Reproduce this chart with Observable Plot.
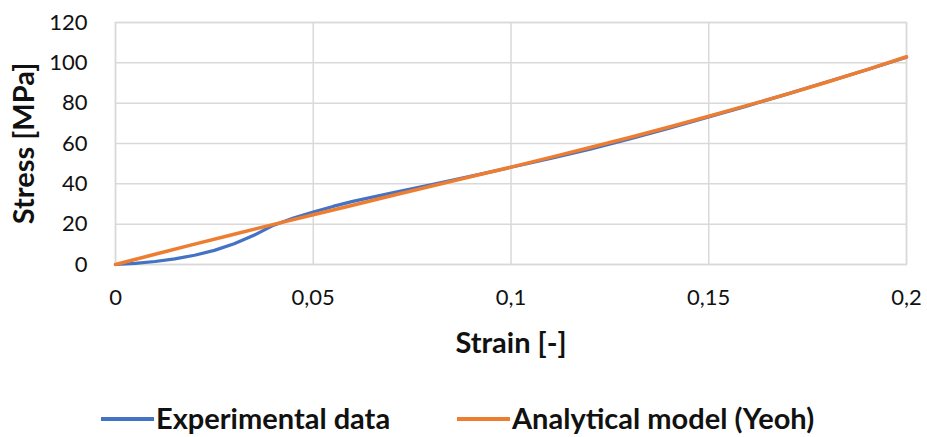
<!DOCTYPE html>
<html>
<head>
<meta charset="utf-8">
<script src="https://cdn.jsdelivr.net/npm/d3@7"></script>
<script src="https://cdn.jsdelivr.net/npm/@observablehq/plot@0.6"></script>
<style>
  body { margin: 0; background: #fff; font-family: Lato, "Open Sans", sans-serif; overflow: hidden; }
  #chart { position: relative; width: 927px; height: 437px; overflow: hidden; }
  .legend { position: absolute; left: 0; top: 402px; width: 927px; height: 32px; }
  .swatch { position: absolute; top: 15px; width: 53px; height: 4px; }
  .label { position: absolute; top: 0; height: 32px; line-height: 32px; white-space: nowrap;
           font-weight: bold; font-size: 29px; color: #111; }
</style>
</head>
<body>
<div id="chart"></div>
<script>
// Experimental stress-strain curve
const expStrain = [0, 0.005, 0.01, 0.015, 0.02, 0.025, 0.03, 0.035, 0.04, 0.045, 0.05, 0.055, 0.06,
                   0.07, 0.08, 0.09, 0.1, 0.11, 0.12, 0.13, 0.14, 0.15, 0.16, 0.17, 0.18, 0.19, 0.2];
const expStress = [0, 0.6, 1.5, 2.8, 4.6, 7.0, 10.3, 14.5, 19.5, 23.0, 26.0, 28.8, 31.3,
                   35.5, 39.6, 43.8, 48.2, 52.6, 57.2, 62.2, 67.6, 73.2, 78.8, 84.6, 90.6, 96.6, 102.8];

// Yeoh hyperelastic model fit
const modelStrain = [0, 0.01, 0.02, 0.03, 0.04, 0.05, 0.06, 0.07, 0.08, 0.09, 0.1,
                     0.11, 0.12, 0.13, 0.14, 0.15, 0.16, 0.17, 0.18, 0.19, 0.2];
const modelStress = [0, 5.1, 10.1, 15.0, 19.9, 24.7, 29.4, 34.2, 38.9, 43.6, 48.3,
                     53.1, 58.0, 63.0, 68.2, 73.5, 79.0, 84.6, 90.5, 96.6, 103.0];

const xTicks = [0, 0.05, 0.1, 0.15, 0.2];
const yTicks = [0, 20, 40, 60, 80, 100, 120];

const seriesNames = ["Experimental data", "Analytical model (Yeoh)"];
const seriesColors = ["#4472C4", "#ED7D31"];

const expData = expStrain.map((s, i) => ({strain: s, stress: expStress[i]}));
const modelData = modelStrain.map((s, i) => ({strain: s, stress: modelStress[i]}));

const grid = "#d9d9d9";
const plot = Plot.plot({
  width: 927,
  height: 360,
  marginLeft: 115,
  marginRight: 21,
  marginTop: 22,
  marginBottom: 96,
  style: {fontFamily: "Lato, 'Open Sans', sans-serif", fontSize: "22px", color: "#111", background: "#fff"},
  x: {domain: [0, 0.2]},
  y: {domain: [0, 120]},
  marks: [
    Plot.gridX(xTicks, {stroke: grid, strokeOpacity: 1, strokeWidth: 1.5}),
    Plot.gridY(yTicks, {stroke: grid, strokeOpacity: 1, strokeWidth: 1.5}),
    Plot.frame({stroke: grid, strokeWidth: 1.5}),
    Plot.axisX(xTicks, {tickSize: 0, tickPadding: 25, label: null,
      tickFormat: d => String(d).replace(".", ","), fontSize: 22}),
    Plot.axisY(yTicks, {tickSize: 0, tickPadding: 28, label: null, fontSize: 22}),
    Plot.line(expData, {x: "strain", y: "stress", stroke: seriesColors[0], strokeWidth: 3.2}),
    Plot.line(modelData, {x: "strain", y: "stress", stroke: seriesColors[1], strokeWidth: 3.5}),
    Plot.text(["Strain [-]"], {frameAnchor: "bottom", dy: 79, lineAnchor: "middle", textAnchor: "middle",
      fontWeight: "bold", fontSize: 29, fill: "#111"}),
    Plot.text(["Stress [MPa]"], {frameAnchor: "left", dx: -91, rotate: -90, lineAnchor: "middle", textAnchor: "middle",
      fontWeight: "bold", fontSize: 29, fill: "#111"})
  ]
});
const chart = document.getElementById("chart");
chart.appendChild(plot);

// Legend below the plot
const legend = document.createElement("div");
legend.className = "legend";
const swatchLefts = [101, 457];
const labelLefts = [156, 512];
seriesNames.forEach((name, i) => {
  const sw = document.createElement("span");
  sw.className = "swatch";
  sw.style.left = swatchLefts[i] + "px";
  sw.style.background = seriesColors[i];
  legend.appendChild(sw);
  const lab = document.createElement("span");
  lab.className = "label";
  lab.style.left = labelLefts[i] + "px";
  lab.textContent = name;
  legend.appendChild(lab);
});
chart.appendChild(legend);
</script>
</body>
</html>
